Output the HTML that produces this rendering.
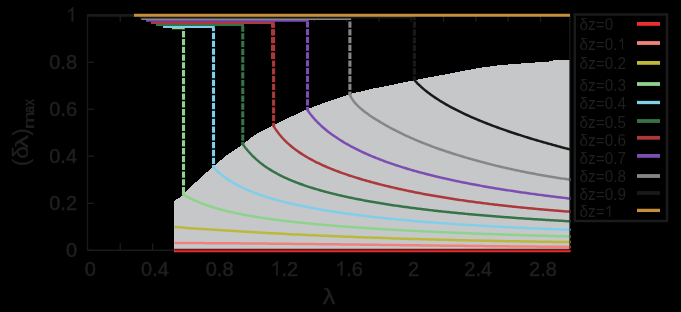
<!DOCTYPE html>
<html><head><meta charset="utf-8"><title>plot</title>
<style>html,body{margin:0;padding:0;background:#000;}body{width:681px;height:312px;overflow:hidden;position:relative;font-family:"Liberation Sans",sans-serif;}svg text{font-family:"Liberation Sans",sans-serif;}</style>
</head><body>
<svg width="681" height="312" viewBox="0 0 681 312" style="display:block;position:absolute;left:0;top:0;will-change:transform;opacity:0.999">
<rect x="0" y="0" width="681" height="312" fill="#000"/>
<g stroke="#1c1c1c" fill="none" stroke-width="1.4">
<rect x="87.5" y="15.2" width="482.20000000000005" height="235.10000000000002"/>
<line x1="120.23" y1="250.3" x2="120.23" y2="243.3"/>
<line x1="120.23" y1="15.2" x2="120.23" y2="21.799999999999997"/>
<line x1="152.56" y1="250.3" x2="152.56" y2="243.3"/>
<line x1="152.56" y1="15.2" x2="152.56" y2="21.799999999999997"/>
<line x1="184.89" y1="250.3" x2="184.89" y2="243.3"/>
<line x1="184.89" y1="15.2" x2="184.89" y2="21.799999999999997"/>
<line x1="217.22" y1="250.3" x2="217.22" y2="243.3"/>
<line x1="217.22" y1="15.2" x2="217.22" y2="21.799999999999997"/>
<line x1="249.55" y1="250.3" x2="249.55" y2="243.3"/>
<line x1="249.55" y1="15.2" x2="249.55" y2="21.799999999999997"/>
<line x1="281.88" y1="250.3" x2="281.88" y2="243.3"/>
<line x1="281.88" y1="15.2" x2="281.88" y2="21.799999999999997"/>
<line x1="314.21" y1="250.3" x2="314.21" y2="243.3"/>
<line x1="314.21" y1="15.2" x2="314.21" y2="21.799999999999997"/>
<line x1="346.54" y1="250.3" x2="346.54" y2="243.3"/>
<line x1="346.54" y1="15.2" x2="346.54" y2="21.799999999999997"/>
<line x1="378.87" y1="250.3" x2="378.87" y2="243.3"/>
<line x1="378.87" y1="15.2" x2="378.87" y2="21.799999999999997"/>
<line x1="411.20" y1="250.3" x2="411.20" y2="243.3"/>
<line x1="411.20" y1="15.2" x2="411.20" y2="21.799999999999997"/>
<line x1="443.53" y1="250.3" x2="443.53" y2="243.3"/>
<line x1="443.53" y1="15.2" x2="443.53" y2="21.799999999999997"/>
<line x1="475.86" y1="250.3" x2="475.86" y2="243.3"/>
<line x1="475.86" y1="15.2" x2="475.86" y2="21.799999999999997"/>
<line x1="508.19" y1="250.3" x2="508.19" y2="243.3"/>
<line x1="508.19" y1="15.2" x2="508.19" y2="21.799999999999997"/>
<line x1="540.52" y1="250.3" x2="540.52" y2="243.3"/>
<line x1="540.52" y1="15.2" x2="540.52" y2="21.799999999999997"/>
<line x1="87.9" y1="250.30" x2="93.9" y2="250.30"/>
<line x1="569.5" y1="250.30" x2="563.5" y2="250.30"/>
<line x1="87.9" y1="203.28" x2="93.9" y2="203.28"/>
<line x1="569.5" y1="203.28" x2="563.5" y2="203.28"/>
<line x1="87.9" y1="156.26" x2="93.9" y2="156.26"/>
<line x1="569.5" y1="156.26" x2="563.5" y2="156.26"/>
<line x1="87.9" y1="109.24" x2="93.9" y2="109.24"/>
<line x1="569.5" y1="109.24" x2="563.5" y2="109.24"/>
<line x1="87.9" y1="62.22" x2="93.9" y2="62.22"/>
<line x1="569.5" y1="62.22" x2="563.5" y2="62.22"/>
<line x1="87.9" y1="15.20" x2="93.9" y2="15.20"/>
<line x1="569.5" y1="15.20" x2="563.5" y2="15.20"/>
</g>
<line x1="87.4" y1="15.35" x2="140" y2="15.35" stroke="#1c1c1c" stroke-width="2.6"/>
<polygon points="174.00,251.50 174.00,202.20 175.60,199.80 178.00,198.40 181.90,196.25 185.90,192.00 191.90,185.80 200.20,178.20 211.90,167.60 213.60,166.30 227.00,155.00 242.30,144.90 248.00,140.20 253.90,135.50 262.00,131.00 271.90,126.10 286.20,118.90 290.25,117.00 307.00,109.30 323.75,103.00 340.50,97.50 350.00,94.00 373.50,88.50 390.25,85.20 413.70,80.30 432.00,76.80 450.00,73.50 466.75,70.15 483.50,67.30 500.25,65.10 517.00,63.80 533.75,62.60 550.50,61.40 554.70,60.10 569.50,59.50 569.50,251.50" fill="#c7c8c9" shape-rendering="crispEdges"/>
<polyline points="174.20,250.90 570.60,250.90" fill="none" stroke="#ee2e2f" stroke-width="2.5"/>
<polyline points="174.50,243.00 178.50,243.01 182.50,243.03 186.50,243.05 190.50,243.06 194.50,243.08 198.50,243.10 202.50,243.12 206.50,243.15 210.50,243.17 214.50,243.19 218.50,243.22 222.50,243.25 226.50,243.27 230.50,243.30 234.50,243.33 238.50,243.36 242.50,243.39 246.50,243.43 250.50,243.46 254.50,243.49 258.50,243.53 262.50,243.56 266.50,243.60 270.50,243.64 274.50,243.68 278.50,243.72 282.50,243.75 286.50,243.79 290.50,243.84 294.50,243.88 298.50,243.92 302.50,243.96 306.50,244.00 310.50,244.05 314.50,244.09 318.50,244.14 322.50,244.18 326.50,244.23 330.50,244.27 334.50,244.32 338.50,244.36 342.50,244.41 346.50,244.46 350.50,244.51 354.50,244.55 358.50,244.60 362.50,244.65 366.50,244.70 370.50,244.75 374.50,244.80 378.50,244.84 382.50,244.89 386.50,244.94 390.50,244.99 394.50,245.04 398.50,245.09 402.50,245.14 406.50,245.19 410.50,245.24 414.50,245.29 418.50,245.34 422.50,245.39 426.50,245.43 430.50,245.48 434.50,245.53 438.50,245.58 442.50,245.63 446.50,245.67 450.50,245.72 454.50,245.77 458.50,245.82 462.50,245.86 466.50,245.91 470.50,245.95 474.50,246.00 478.50,246.04 482.50,246.09 486.50,246.13 490.50,246.17 494.50,246.22 498.50,246.26 502.50,246.30 506.50,246.34 510.50,246.38 514.50,246.42 518.50,246.46 522.50,246.50 526.50,246.54 530.50,246.57 534.50,246.61 538.50,246.65 542.50,246.68 546.50,246.71 550.50,246.75 554.50,246.78 558.50,246.81 562.50,246.84 566.50,246.87 570.50,246.90 571.00,246.90" fill="none" stroke="#f4827c" stroke-width="2.5"/>
<polyline points="174.50,227.00 178.50,227.30 182.50,227.59 186.50,227.88 190.50,228.17 194.50,228.45 198.50,228.73 202.50,229.01 206.50,229.28 210.50,229.55 214.50,229.81 218.50,230.07 222.50,230.33 226.50,230.58 230.50,230.83 234.50,231.08 238.50,231.32 242.50,231.56 246.50,231.80 250.50,232.03 254.50,232.26 258.50,232.49 262.50,232.71 266.50,232.93 270.50,233.15 274.50,233.36 278.50,233.57 282.50,233.77 286.50,233.98 290.50,234.18 294.50,234.38 298.50,234.57 302.50,234.76 306.50,234.95 310.50,235.14 314.50,235.32 318.50,235.50 322.50,235.67 326.50,235.85 330.50,236.02 334.50,236.19 338.50,236.35 342.50,236.51 346.50,236.67 350.50,236.83 354.50,236.98 358.50,237.14 362.50,237.28 366.50,237.43 370.50,237.57 374.50,237.72 378.50,237.85 382.50,237.99 386.50,238.12 390.50,238.26 394.50,238.38 398.50,238.51 402.50,238.64 406.50,238.76 410.50,238.88 414.50,238.99 418.50,239.11 422.50,239.22 426.50,239.33 430.50,239.44 434.50,239.55 438.50,239.65 442.50,239.75 446.50,239.85 450.50,239.95 454.50,240.05 458.50,240.14 462.50,240.24 466.50,240.33 470.50,240.41 474.50,240.50 478.50,240.59 482.50,240.67 486.50,240.75 490.50,240.83 494.50,240.91 498.50,240.98 502.50,241.06 506.50,241.13 510.50,241.20 514.50,241.27 518.50,241.34 522.50,241.40 526.50,241.47 530.50,241.53 534.50,241.60 538.50,241.66 542.50,241.71 546.50,241.77 550.50,241.83 554.50,241.88 558.50,241.94 562.50,241.99 566.50,242.04 570.50,242.09 571.00,242.10" fill="none" stroke="#bdb93c" stroke-width="2.5"/>
<polyline points="172,28 184.75,28" fill="none" stroke="#8fd48e" stroke-width="2.5"/>
<line x1="183.5" y1="29.25" x2="183.5" y2="195.00" stroke="#8fd48e" stroke-width="3.1" stroke-dasharray="6.3 1.5" stroke-dashoffset="5.97"/>
<line x1="183.5" y1="192.50" x2="183.5" y2="195.80" stroke="#8fd48e" stroke-width="3.0"/>
<polyline points="183.50,195.00 185.00,195.65 186.50,196.37 188.00,197.13 189.50,197.88 191.00,198.63 192.50,199.36 194.00,200.08 195.50,200.76 197.00,201.43 198.50,202.08 200.00,202.70 201.50,203.30 203.00,203.89 204.50,204.45 206.00,205.00 207.50,205.52 209.00,206.03 210.50,206.53 212.00,207.01 213.50,207.48 215.00,207.93 216.50,208.37 218.00,208.80 219.50,209.22 221.00,209.63 222.50,210.02 224.00,210.41 225.50,210.78 227.00,211.15 228.50,211.51 230.00,211.86 231.50,212.20 233.00,212.54 234.50,212.86 236.00,213.18 237.50,213.49 239.00,213.80 240.50,214.10 242.00,214.39 243.50,214.68 245.00,214.96 246.50,215.24 248.00,215.51 249.50,215.78 251.00,216.04 252.50,216.30 254.00,216.55 255.50,216.80 257.00,217.04 258.50,217.28 260.00,217.51 261.50,217.74 263.00,217.97 264.50,218.19 266.00,218.41 267.50,218.63 269.00,218.84 270.50,219.05 272.00,219.26 273.50,219.46 275.00,219.66 276.50,219.86 278.00,220.05 279.50,220.25 281.00,220.43 282.50,220.62 284.00,220.80 285.50,220.98 287.00,221.16 288.50,221.34 290.00,221.51 291.50,221.68 293.00,221.85 294.50,222.02 296.00,222.18 297.50,222.34 299.00,222.51 300.50,222.66 302.00,222.82 303.50,222.97 305.00,223.13 306.50,223.28 308.00,223.43 309.50,223.57 311.00,223.72 312.50,223.86 314.00,224.00 315.50,224.14 317.00,224.28 318.50,224.42 320.00,224.56 321.50,224.69 323.00,224.82 324.50,224.95 326.00,225.08 327.50,225.21 329.00,225.34 330.50,225.46 332.00,225.59 333.50,225.71 335.00,225.83 336.50,225.95 338.00,226.07 339.50,226.19 341.00,226.31 342.50,226.42 344.00,226.54 345.50,226.65 347.00,226.76 348.50,226.87 350.00,226.98 351.50,227.09 353.00,227.20 354.50,227.30 356.00,227.41 357.50,227.52 359.00,227.62 360.50,227.72 362.00,227.82 363.50,227.92 365.00,228.02 366.50,228.12 368.00,228.22 369.50,228.32 371.00,228.42 372.50,228.51 374.00,228.61 375.50,228.70 377.00,228.79 378.50,228.88 380.00,228.98 381.50,229.07 383.00,229.16 384.50,229.25 386.00,229.33 387.50,229.42 389.00,229.51 390.50,229.59 392.00,229.68 393.50,229.76 395.00,229.85 396.50,229.93 398.00,230.01 399.50,230.10 401.00,230.18 402.50,230.26 404.00,230.34 405.50,230.42 407.00,230.50 408.50,230.58 410.00,230.65 411.50,230.73 413.00,230.81 414.50,230.88 416.00,230.96 417.50,231.03 419.00,231.11 420.50,231.18 422.00,231.25 423.50,231.32 425.00,231.40 426.50,231.47 428.00,231.54 429.50,231.61 431.00,231.68 432.50,231.75 434.00,231.82 435.50,231.88 437.00,231.95 438.50,232.02 440.00,232.09 441.50,232.15 443.00,232.22 444.50,232.28 446.00,232.35 447.50,232.41 449.00,232.48 450.50,232.54 452.00,232.60 453.50,232.67 455.00,232.73 456.50,232.79 458.00,232.85 459.50,232.91 461.00,232.97 462.50,233.03 464.00,233.09 465.50,233.15 467.00,233.21 468.50,233.27 470.00,233.33 471.50,233.39 473.00,233.44 474.50,233.50 476.00,233.56 477.50,233.62 479.00,233.67 480.50,233.73 482.00,233.78 483.50,233.84 485.00,233.89 486.50,233.95 488.00,234.00 489.50,234.05 491.00,234.11 492.50,234.16 494.00,234.21 495.50,234.26 497.00,234.32 498.50,234.37 500.00,234.42 501.50,234.47 503.00,234.52 504.50,234.57 506.00,234.62 507.50,234.67 509.00,234.72 510.50,234.77 512.00,234.82 513.50,234.87 515.00,234.91 516.50,234.96 518.00,235.01 519.50,235.06 521.00,235.10 522.50,235.15 524.00,235.20 525.50,235.24 527.00,235.29 528.50,235.34 530.00,235.38 531.50,235.43 533.00,235.47 534.50,235.52 536.00,235.56 537.50,235.60 539.00,235.65 540.50,235.69 542.00,235.74 543.50,235.78 545.00,235.82 546.50,235.86 548.00,235.91 549.50,235.95 551.00,235.99 552.50,236.03 554.00,236.07 555.50,236.12 557.00,236.16 558.50,236.20 560.00,236.24 561.50,236.28 563.00,236.32 564.50,236.36 566.00,236.40 567.50,236.44 569.00,236.48 570.50,236.52 571.00,236.53" fill="none" stroke="#8fd48e" stroke-width="2.5" stroke-linejoin="round"/>
<polyline points="163,26.75 214.75,26.75" fill="none" stroke="#82cfec" stroke-width="2.5"/>
<line x1="213.5" y1="28.00" x2="213.5" y2="167.50" stroke="#82cfec" stroke-width="3.1" stroke-dasharray="6.3 1.5" stroke-dashoffset="2.97"/>
<line x1="213.5" y1="165.00" x2="213.5" y2="168.30" stroke="#82cfec" stroke-width="3.0"/>
<polyline points="213.50,167.50 215.00,168.93 216.50,170.34 218.00,171.72 219.50,173.05 221.00,174.31 222.50,175.53 224.00,176.69 225.50,177.80 227.00,178.86 228.50,179.88 230.00,180.86 231.50,181.80 233.00,182.70 234.50,183.57 236.00,184.41 237.50,185.22 239.00,186.00 240.50,186.76 242.00,187.49 243.50,188.20 245.00,188.89 246.50,189.56 248.00,190.21 249.50,190.84 251.00,191.45 252.50,192.05 254.00,192.63 255.50,193.20 257.00,193.75 258.50,194.29 260.00,194.82 261.50,195.34 263.00,195.84 264.50,196.33 266.00,196.81 267.50,197.28 269.00,197.74 270.50,198.19 272.00,198.64 273.50,199.07 275.00,199.49 276.50,199.91 278.00,200.32 279.50,200.72 281.00,201.12 282.50,201.50 284.00,201.88 285.50,202.26 287.00,202.62 288.50,202.98 290.00,203.34 291.50,203.69 293.00,204.03 294.50,204.37 296.00,204.70 297.50,205.03 299.00,205.35 300.50,205.67 302.00,205.98 303.50,206.29 305.00,206.59 306.50,206.89 308.00,207.19 309.50,207.48 311.00,207.76 312.50,208.05 314.00,208.33 315.50,208.60 317.00,208.87 318.50,209.14 320.00,209.40 321.50,209.66 323.00,209.92 324.50,210.17 326.00,210.42 327.50,210.67 329.00,210.92 330.50,211.16 332.00,211.39 333.50,211.63 335.00,211.86 336.50,212.09 338.00,212.31 339.50,212.54 341.00,212.76 342.50,212.98 344.00,213.19 345.50,213.40 347.00,213.61 348.50,213.82 350.00,214.03 351.50,214.23 353.00,214.43 354.50,214.63 356.00,214.82 357.50,215.02 359.00,215.21 360.50,215.40 362.00,215.58 363.50,215.77 365.00,215.95 366.50,216.13 368.00,216.31 369.50,216.49 371.00,216.66 372.50,216.84 374.00,217.01 375.50,217.18 377.00,217.34 378.50,217.51 380.00,217.67 381.50,217.83 383.00,218.00 384.50,218.15 386.00,218.31 387.50,218.47 389.00,218.62 390.50,218.77 392.00,218.92 393.50,219.07 395.00,219.22 396.50,219.37 398.00,219.51 399.50,219.65 401.00,219.80 402.50,219.94 404.00,220.08 405.50,220.21 407.00,220.35 408.50,220.49 410.00,220.62 411.50,220.75 413.00,220.88 414.50,221.01 416.00,221.14 417.50,221.27 419.00,221.39 420.50,221.52 422.00,221.64 423.50,221.77 425.00,221.89 426.50,222.01 428.00,222.13 429.50,222.25 431.00,222.36 432.50,222.48 434.00,222.59 435.50,222.71 437.00,222.82 438.50,222.93 440.00,223.04 441.50,223.15 443.00,223.26 444.50,223.37 446.00,223.48 447.50,223.58 449.00,223.69 450.50,223.79 452.00,223.89 453.50,224.00 455.00,224.10 456.50,224.20 458.00,224.30 459.50,224.40 461.00,224.49 462.50,224.59 464.00,224.69 465.50,224.78 467.00,224.88 468.50,224.97 470.00,225.06 471.50,225.16 473.00,225.25 474.50,225.34 476.00,225.43 477.50,225.52 479.00,225.60 480.50,225.69 482.00,225.78 483.50,225.86 485.00,225.95 486.50,226.03 488.00,226.12 489.50,226.20 491.00,226.28 492.50,226.37 494.00,226.45 495.50,226.53 497.00,226.61 498.50,226.69 500.00,226.77 501.50,226.84 503.00,226.92 504.50,227.00 506.00,227.07 507.50,227.15 509.00,227.22 510.50,227.30 512.00,227.37 513.50,227.44 515.00,227.52 516.50,227.59 518.00,227.66 519.50,227.73 521.00,227.80 522.50,227.87 524.00,227.94 525.50,228.01 527.00,228.08 528.50,228.14 530.00,228.21 531.50,228.28 533.00,228.34 534.50,228.41 536.00,228.47 537.50,228.54 539.00,228.60 540.50,228.66 542.00,228.73 543.50,228.79 545.00,228.85 546.50,228.91 548.00,228.97 549.50,229.03 551.00,229.09 552.50,229.15 554.00,229.21 555.50,229.27 557.00,229.33 558.50,229.39 560.00,229.44 561.50,229.50 563.00,229.56 564.50,229.61 566.00,229.67 567.50,229.72 569.00,229.78 570.50,229.83 571.00,229.85" fill="none" stroke="#82cfec" stroke-width="2.5" stroke-linejoin="round"/>
<polyline points="156,24.85 244.0,24.85" fill="none" stroke="#37744a" stroke-width="2.5"/>
<line x1="242.75" y1="26.10" x2="242.75" y2="144.25" stroke="#37744a" stroke-width="3.1" stroke-dasharray="6.3 1.5" stroke-dashoffset="0.77"/>
<line x1="242.75" y1="141.75" x2="242.75" y2="145.05" stroke="#37744a" stroke-width="3.0"/>
<polyline points="242.75,144.25 244.25,146.23 245.75,148.15 247.25,149.99 248.75,151.75 250.25,153.42 251.75,155.01 253.25,156.52 254.75,157.96 256.25,159.34 257.75,160.65 259.25,161.91 260.75,163.11 262.25,164.27 263.75,165.38 265.25,166.44 266.75,167.47 268.25,168.46 269.75,169.42 271.25,170.35 272.75,171.24 274.25,172.11 275.75,172.95 277.25,173.77 278.75,174.56 280.25,175.33 281.75,176.08 283.25,176.80 284.75,177.51 286.25,178.20 287.75,178.88 289.25,179.53 290.75,180.17 292.25,180.80 293.75,181.41 295.25,182.00 296.75,182.59 298.25,183.16 299.75,183.72 301.25,184.26 302.75,184.80 304.25,185.32 305.75,185.84 307.25,186.34 308.75,186.84 310.25,187.32 311.75,187.80 313.25,188.26 314.75,188.72 316.25,189.17 317.75,189.61 319.25,190.05 320.75,190.48 322.25,190.90 323.75,191.31 325.25,191.71 326.75,192.11 328.25,192.51 329.75,192.90 331.25,193.28 332.75,193.65 334.25,194.02 335.75,194.39 337.25,194.74 338.75,195.10 340.25,195.45 341.75,195.79 343.25,196.13 344.75,196.46 346.25,196.79 347.75,197.11 349.25,197.44 350.75,197.75 352.25,198.06 353.75,198.37 355.25,198.67 356.75,198.97 358.25,199.27 359.75,199.56 361.25,199.85 362.75,200.14 364.25,200.42 365.75,200.70 367.25,200.97 368.75,201.24 370.25,201.51 371.75,201.78 373.25,202.04 374.75,202.30 376.25,202.55 377.75,202.81 379.25,203.06 380.75,203.30 382.25,203.55 383.75,203.79 385.25,204.03 386.75,204.26 388.25,204.50 389.75,204.73 391.25,204.96 392.75,205.18 394.25,205.40 395.75,205.63 397.25,205.84 398.75,206.06 400.25,206.27 401.75,206.49 403.25,206.70 404.75,206.90 406.25,207.11 407.75,207.31 409.25,207.51 410.75,207.71 412.25,207.91 413.75,208.10 415.25,208.30 416.75,208.49 418.25,208.68 419.75,208.86 421.25,209.05 422.75,209.23 424.25,209.42 425.75,209.60 427.25,209.77 428.75,209.95 430.25,210.13 431.75,210.30 433.25,210.47 434.75,210.64 436.25,210.81 437.75,210.98 439.25,211.14 440.75,211.31 442.25,211.47 443.75,211.63 445.25,211.79 446.75,211.95 448.25,212.10 449.75,212.26 451.25,212.41 452.75,212.56 454.25,212.71 455.75,212.86 457.25,213.01 458.75,213.16 460.25,213.30 461.75,213.45 463.25,213.59 464.75,213.73 466.25,213.87 467.75,214.01 469.25,214.15 470.75,214.29 472.25,214.43 473.75,214.56 475.25,214.69 476.75,214.83 478.25,214.96 479.75,215.09 481.25,215.22 482.75,215.35 484.25,215.47 485.75,215.60 487.25,215.72 488.75,215.85 490.25,215.97 491.75,216.09 493.25,216.21 494.75,216.33 496.25,216.45 497.75,216.57 499.25,216.69 500.75,216.80 502.25,216.92 503.75,217.03 505.25,217.15 506.75,217.26 508.25,217.37 509.75,217.48 511.25,217.59 512.75,217.70 514.25,217.81 515.75,217.92 517.25,218.02 518.75,218.13 520.25,218.23 521.75,218.34 523.25,218.44 524.75,218.54 526.25,218.65 527.75,218.75 529.25,218.85 530.75,218.95 532.25,219.05 533.75,219.14 535.25,219.24 536.75,219.34 538.25,219.43 539.75,219.53 541.25,219.62 542.75,219.72 544.25,219.81 545.75,219.90 547.25,219.99 548.75,220.08 550.25,220.18 551.75,220.26 553.25,220.35 554.75,220.44 556.25,220.53 557.75,220.62 559.25,220.70 560.75,220.79 562.25,220.87 563.75,220.96 565.25,221.04 566.75,221.13 568.25,221.21 569.75,221.29 571.00,221.36" fill="none" stroke="#37744a" stroke-width="2.5" stroke-linejoin="round"/>
<polyline points="151,22.75 274.85,22.75" fill="none" stroke="#ac393b" stroke-width="2.5"/>
<line x1="273.6" y1="24.00" x2="273.6" y2="126.00" stroke="#ac393b" stroke-width="3.1" stroke-dasharray="6.3 1.5" stroke-dashoffset="2.58"/>
<line x1="273.6" y1="123.50" x2="273.6" y2="126.80" stroke="#ac393b" stroke-width="3.0"/>
<line x1="272.4" y1="24.00" x2="272.4" y2="60.4" stroke="#ac393b" stroke-width="2.8" stroke-dasharray="6.3 1.5" stroke-dashoffset="2.58"/>
<polyline points="273.50,126.01 275.00,128.37 276.50,130.56 278.00,132.60 279.50,134.51 281.00,136.31 282.50,138.00 284.00,139.59 285.50,141.11 287.00,142.55 288.50,143.93 290.00,145.24 291.50,146.50 293.00,147.71 294.50,148.87 296.00,149.99 297.50,151.07 299.00,152.12 300.50,153.13 302.00,154.11 303.50,155.06 305.00,155.98 306.50,156.87 308.00,157.74 309.50,158.59 311.00,159.41 312.50,160.21 314.00,161.00 315.50,161.76 317.00,162.51 318.50,163.24 320.00,163.95 321.50,164.65 323.00,165.34 324.50,166.01 326.00,166.66 327.50,167.30 329.00,167.93 330.50,168.55 332.00,169.16 333.50,169.76 335.00,170.34 336.50,170.92 338.00,171.48 339.50,172.04 341.00,172.59 342.50,173.12 344.00,173.65 345.50,174.17 347.00,174.69 348.50,175.19 350.00,175.69 351.50,176.18 353.00,176.66 354.50,177.14 356.00,177.61 357.50,178.07 359.00,178.53 360.50,178.98 362.00,179.43 363.50,179.87 365.00,180.30 366.50,180.73 368.00,181.15 369.50,181.57 371.00,181.98 372.50,182.39 374.00,182.79 375.50,183.19 377.00,183.58 378.50,183.97 380.00,184.35 381.50,184.73 383.00,185.11 384.50,185.48 386.00,185.85 387.50,186.21 389.00,186.57 390.50,186.93 392.00,187.28 393.50,187.63 395.00,187.98 396.50,188.32 398.00,188.66 399.50,188.99 401.00,189.32 402.50,189.65 404.00,189.98 405.50,190.30 407.00,190.61 408.50,190.93 410.00,191.24 411.50,191.55 413.00,191.85 414.50,192.15 416.00,192.45 417.50,192.75 419.00,193.04 420.50,193.33 422.00,193.61 423.50,193.90 425.00,194.18 426.50,194.46 428.00,194.73 429.50,195.00 431.00,195.27 432.50,195.54 434.00,195.80 435.50,196.06 437.00,196.32 438.50,196.58 440.00,196.83 441.50,197.08 443.00,197.33 444.50,197.58 446.00,197.82 447.50,198.06 449.00,198.30 450.50,198.54 452.00,198.77 453.50,199.00 455.00,199.23 456.50,199.46 458.00,199.68 459.50,199.91 461.00,200.13 462.50,200.34 464.00,200.56 465.50,200.78 467.00,200.99 468.50,201.20 470.00,201.41 471.50,201.61 473.00,201.82 474.50,202.02 476.00,202.22 477.50,202.42 479.00,202.61 480.50,202.81 482.00,203.00 483.50,203.19 485.00,203.38 486.50,203.57 488.00,203.75 489.50,203.94 491.00,204.12 492.50,204.30 494.00,204.48 495.50,204.66 497.00,204.83 498.50,205.01 500.00,205.18 501.50,205.35 503.00,205.52 504.50,205.69 506.00,205.85 507.50,206.02 509.00,206.18 510.50,206.34 512.00,206.50 513.50,206.66 515.00,206.82 516.50,206.97 518.00,207.13 519.50,207.28 521.00,207.43 522.50,207.58 524.00,207.73 525.50,207.87 527.00,208.02 528.50,208.16 530.00,208.31 531.50,208.45 533.00,208.59 534.50,208.73 536.00,208.87 537.50,209.00 539.00,209.14 540.50,209.27 542.00,209.41 543.50,209.54 545.00,209.67 546.50,209.80 548.00,209.93 549.50,210.06 551.00,210.18 552.50,210.31 554.00,210.43 555.50,210.55 557.00,210.67 558.50,210.79 560.00,210.91 561.50,211.03 563.00,211.15 564.50,211.27 566.00,211.38 567.50,211.50 569.00,211.61 570.50,211.72 571.00,211.76" fill="none" stroke="#ac393b" stroke-width="2.5" stroke-linejoin="round"/>
<polyline points="146,20.5 308.75,20.5" fill="none" stroke="#7d4eb3" stroke-width="2.5"/>
<line x1="307.5" y1="21.75" x2="307.5" y2="110.00" stroke="#7d4eb3" stroke-width="3.1" stroke-dasharray="6.3 1.5" stroke-dashoffset="0.62"/>
<line x1="307.5" y1="107.50" x2="307.5" y2="110.80" stroke="#7d4eb3" stroke-width="3.0"/>
<polyline points="307.50,110.00 309.00,112.18 310.50,114.20 312.00,116.10 313.50,117.90 315.00,119.60 316.50,121.21 318.00,122.75 319.50,124.22 321.00,125.63 322.50,126.98 324.00,128.29 325.50,129.55 327.00,130.77 328.50,131.94 330.00,133.08 331.50,134.19 333.00,135.27 334.50,136.32 336.00,137.34 337.50,138.33 339.00,139.30 340.50,140.25 342.00,141.17 343.50,142.08 345.00,142.96 346.50,143.83 348.00,144.68 349.50,145.51 351.00,146.32 352.50,147.12 354.00,147.91 355.50,148.68 357.00,149.43 358.50,150.17 360.00,150.90 361.50,151.61 363.00,152.31 364.50,153.00 366.00,153.68 367.50,154.35 369.00,155.00 370.50,155.64 372.00,156.28 373.50,156.90 375.00,157.51 376.50,158.12 378.00,158.71 379.50,159.29 381.00,159.87 382.50,160.44 384.00,161.00 385.50,161.55 387.00,162.09 388.50,162.62 390.00,163.15 391.50,163.67 393.00,164.18 394.50,164.69 396.00,165.19 397.50,165.68 399.00,166.16 400.50,166.64 402.00,167.12 403.50,167.58 405.00,168.04 406.50,168.50 408.00,168.95 409.50,169.39 411.00,169.83 412.50,170.26 414.00,170.69 415.50,171.11 417.00,171.53 418.50,171.94 420.00,172.35 421.50,172.76 423.00,173.16 424.50,173.55 426.00,173.94 427.50,174.33 429.00,174.71 430.50,175.08 432.00,175.46 433.50,175.83 435.00,176.19 436.50,176.55 438.00,176.91 439.50,177.27 441.00,177.62 442.50,177.96 444.00,178.31 445.50,178.64 447.00,178.98 448.50,179.31 450.00,179.64 451.50,179.97 453.00,180.29 454.50,180.61 456.00,180.93 457.50,181.24 459.00,181.55 460.50,181.86 462.00,182.17 463.50,182.47 465.00,182.77 466.50,183.06 468.00,183.36 469.50,183.65 471.00,183.94 472.50,184.22 474.00,184.50 475.50,184.79 477.00,185.06 478.50,185.34 480.00,185.61 481.50,185.88 483.00,186.15 484.50,186.42 486.00,186.68 487.50,186.94 489.00,187.20 490.50,187.46 492.00,187.71 493.50,187.97 495.00,188.22 496.50,188.47 498.00,188.71 499.50,188.96 501.00,189.20 502.50,189.44 504.00,189.68 505.50,189.92 507.00,190.15 508.50,190.38 510.00,190.62 511.50,190.84 513.00,191.07 514.50,191.30 516.00,191.52 517.50,191.74 519.00,191.96 520.50,192.18 522.00,192.40 523.50,192.62 525.00,192.83 526.50,193.04 528.00,193.25 529.50,193.46 531.00,193.67 532.50,193.88 534.00,194.08 535.50,194.28 537.00,194.48 538.50,194.68 540.00,194.88 541.50,195.08 543.00,195.28 544.50,195.47 546.00,195.66 547.50,195.86 549.00,196.05 550.50,196.23 552.00,196.42 553.50,196.61 555.00,196.79 556.50,196.98 558.00,197.16 559.50,197.34 561.00,197.52 562.50,197.70 564.00,197.88 565.50,198.05 567.00,198.23 568.50,198.40 570.00,198.58 571.00,198.69" fill="none" stroke="#7d4eb3" stroke-width="2.5" stroke-linejoin="round"/>
<polyline points="141.25,18.85 351.15,18.85" fill="none" stroke="#87878b" stroke-width="2.5"/>
<line x1="349.9" y1="20.10" x2="349.9" y2="95.00" stroke="#87878b" stroke-width="3.1" stroke-dasharray="6.3 1.5" stroke-dashoffset="6.48"/>
<line x1="349.9" y1="92.50" x2="349.9" y2="95.80" stroke="#87878b" stroke-width="3.0"/>
<polyline points="349.90,95.00 351.40,97.84 352.90,100.16 354.40,102.14 355.90,103.89 357.40,105.47 358.90,106.92 360.40,108.27 361.90,109.54 363.40,110.76 364.90,111.92 366.40,113.03 367.90,114.11 369.40,115.16 370.90,116.17 372.40,117.17 373.90,118.14 375.40,119.09 376.90,120.02 378.40,120.94 379.90,121.84 381.40,122.73 382.90,123.60 384.40,124.46 385.90,125.32 387.40,126.15 388.90,126.98 390.40,127.80 391.90,128.60 393.40,129.40 394.90,130.18 396.40,130.95 397.90,131.71 399.40,132.46 400.90,133.19 402.40,133.92 403.90,134.64 405.40,135.34 406.90,136.04 408.40,136.73 409.90,137.41 411.40,138.07 412.90,138.73 414.40,139.38 415.90,140.03 417.40,140.66 418.90,141.28 420.40,141.90 421.90,142.51 423.40,143.11 424.90,143.71 426.40,144.29 427.90,144.87 429.40,145.44 430.90,146.01 432.40,146.57 433.90,147.12 435.40,147.66 436.90,148.20 438.40,148.73 439.90,149.26 441.40,149.78 442.90,150.29 444.40,150.80 445.90,151.31 447.40,151.80 448.90,152.29 450.40,152.78 451.90,153.26 453.40,153.74 454.90,154.21 456.40,154.68 457.90,155.14 459.40,155.60 460.90,156.06 462.40,156.51 463.90,156.96 465.40,157.40 466.90,157.84 468.40,158.27 469.90,158.70 471.40,159.13 472.90,159.55 474.40,159.97 475.90,160.39 477.40,160.80 478.90,161.21 480.40,161.61 481.90,162.02 483.40,162.41 484.90,162.81 486.40,163.20 487.90,163.59 489.40,163.97 490.90,164.35 492.40,164.73 493.90,165.10 495.40,165.47 496.90,165.84 498.40,166.20 499.90,166.56 501.40,166.91 502.90,167.26 504.40,167.61 505.90,167.95 507.40,168.29 508.90,168.63 510.40,168.97 511.90,169.30 513.40,169.62 514.90,169.95 516.40,170.27 517.90,170.58 519.40,170.90 520.90,171.21 522.40,171.52 523.90,171.82 525.40,172.12 526.90,172.42 528.40,172.71 529.90,173.00 531.40,173.29 532.90,173.57 534.40,173.85 535.90,174.13 537.40,174.41 538.90,174.68 540.40,174.95 541.90,175.21 543.40,175.48 544.90,175.74 546.40,175.99 547.90,176.25 549.40,176.50 550.90,176.75 552.40,176.99 553.90,177.23 555.40,177.47 556.90,177.71 558.40,177.94 559.90,178.17 561.40,178.40 562.90,178.63 564.40,178.85 565.90,179.07 567.40,179.29 568.90,179.50 570.40,179.71 571.00,179.80" fill="none" stroke="#87878b" stroke-width="2.5" stroke-linejoin="round"/>
<polyline points="139.4,17.35 415.65,17.35" fill="none" stroke="#1a1a1a" stroke-width="2.5"/>
<line x1="414.4" y1="18.60" x2="414.4" y2="80.00" stroke="#1a1a1a" stroke-width="3.1" stroke-dasharray="6.3 1.5" stroke-dashoffset="4.83"/>
<line x1="414.4" y1="77.50" x2="414.4" y2="80.80" stroke="#1a1a1a" stroke-width="3.0"/>
<polyline points="414.40,80.00 415.90,81.70 417.40,83.28 418.90,84.78 420.40,86.20 421.90,87.56 423.40,88.86 424.90,90.11 426.40,91.32 427.90,92.49 429.40,93.62 430.90,94.72 432.40,95.79 433.90,96.83 435.40,97.84 436.90,98.82 438.40,99.79 439.90,100.73 441.40,101.65 442.90,102.55 444.40,103.44 445.90,104.31 447.40,105.16 448.90,105.99 450.40,106.81 451.90,107.61 453.40,108.41 454.90,109.18 456.40,109.95 457.90,110.71 459.40,111.45 460.90,112.18 462.40,112.90 463.90,113.61 465.40,114.31 466.90,115.00 468.40,115.69 469.90,116.36 471.40,117.02 472.90,117.68 474.40,118.33 475.90,118.97 477.40,119.60 478.90,120.23 480.40,120.84 481.90,121.46 483.40,122.06 484.90,122.66 486.40,123.25 487.90,123.84 489.40,124.41 490.90,124.99 492.40,125.56 493.90,126.12 495.40,126.67 496.90,127.23 498.40,127.77 499.90,128.31 501.40,128.85 502.90,129.38 504.40,129.91 505.90,130.43 507.40,130.95 508.90,131.46 510.40,131.97 511.90,132.47 513.40,132.97 514.90,133.47 516.40,133.96 517.90,134.45 519.40,134.93 520.90,135.41 522.40,135.89 523.90,136.36 525.40,136.83 526.90,137.30 528.40,137.76 529.90,138.22 531.40,138.68 532.90,139.13 534.40,139.58 535.90,140.03 537.40,140.47 538.90,140.91 540.40,141.35 541.90,141.78 543.40,142.22 544.90,142.65 546.40,143.07 547.90,143.49 549.40,143.92 550.90,144.33 552.40,144.75 553.90,145.16 555.40,145.57 556.90,145.98 558.40,146.39 559.90,146.79 561.40,147.19 562.90,147.59 564.40,147.98 565.90,148.38 567.40,148.77 568.90,149.16 570.40,149.54 571.00,149.70" fill="none" stroke="#1a1a1a" stroke-width="2.5" stroke-linejoin="round"/>
<line x1="134" y1="15.2" x2="570.0" y2="15.2" stroke="#c68f3e" stroke-width="3"/>
<line x1="174.2" y1="249.65" x2="570.6" y2="249.65" stroke="#6e1a1a" stroke-width="1.7"/>
<line x1="569.95" y1="17" x2="569.95" y2="250" stroke="#101010" stroke-width="1.1"/>
<rect x="574.8" y="14.5" width="92.2" height="206.5" fill="none" stroke="#1c1c1c" stroke-width="2.5"/>
<line x1="637" y1="23.9" x2="660" y2="23.9" stroke="#ee2e2f" stroke-width="3.8"/>
<text transform="translate(579.60,30.40) scale(0.95,1)" font-size="16.1" fill="#202020" stroke="#202020" stroke-width="0.05">δz=0</text>
<line x1="637" y1="43" x2="660" y2="43" stroke="#f4827c" stroke-width="3.8"/>
<text transform="translate(579.60,49.50) scale(0.95,1)" font-size="16.1" fill="#202020" stroke="#202020" stroke-width="0.05">δz=0.</text><path transform="translate(617.45,49.50) scale(0.007468,-0.007861)" d="M763 0L583 0L583 1147Q518 1085 412.5 1023Q307 961 223 930L223 1104Q374 1175 487 1276Q600 1377 647 1472L763 1472Z" fill="#202020" stroke="#202020" stroke-width="6.4"/>
<line x1="637" y1="62.9" x2="660" y2="62.9" stroke="#bdb93c" stroke-width="3.8"/>
<text transform="translate(579.60,69.40) scale(0.95,1)" font-size="16.1" fill="#202020" stroke="#202020" stroke-width="0.05">δz=0.2</text>
<line x1="637" y1="84" x2="660" y2="84" stroke="#8fd48e" stroke-width="3.8"/>
<text transform="translate(579.60,90.50) scale(0.95,1)" font-size="16.1" fill="#202020" stroke="#202020" stroke-width="0.05">δz=0.3</text>
<line x1="637" y1="102.5" x2="660" y2="102.5" stroke="#82cfec" stroke-width="3.3"/>
<text transform="translate(579.60,108.90) scale(0.95,1)" font-size="16.1" fill="#202020" stroke="#202020" stroke-width="0.05">δz=0.4</text>
<line x1="637" y1="121" x2="660" y2="121" stroke="#37744a" stroke-width="3.8"/>
<text transform="translate(579.60,127.50) scale(0.95,1)" font-size="16.1" fill="#202020" stroke="#202020" stroke-width="0.05">δz=0.5</text>
<line x1="637" y1="137.8" x2="660" y2="137.8" stroke="#ac393b" stroke-width="3.8"/>
<text transform="translate(579.60,145.50) scale(0.95,1)" font-size="16.1" fill="#202020" stroke="#202020" stroke-width="0.05">δz=0.6</text>
<line x1="637" y1="155.9" x2="660" y2="155.9" stroke="#7d4eb3" stroke-width="3.8"/>
<text transform="translate(579.60,163.70) scale(0.95,1)" font-size="16.1" fill="#202020" stroke="#202020" stroke-width="0.05">δz=0.7</text>
<line x1="637" y1="176" x2="660" y2="176" stroke="#87878b" stroke-width="3.8"/>
<text transform="translate(579.60,182.30) scale(0.95,1)" font-size="16.1" fill="#202020" stroke="#202020" stroke-width="0.05">δz=0.8</text>
<line x1="637" y1="193" x2="660" y2="193" stroke="#1a1a1a" stroke-width="3.8"/>
<text transform="translate(579.60,199.50) scale(0.95,1)" font-size="16.1" fill="#202020" stroke="#202020" stroke-width="0.05">δz=0.9</text>
<line x1="637" y1="210.4" x2="660" y2="210.4" stroke="#c68f3e" stroke-width="3.3"/>
<text transform="translate(579.60,216.70) scale(0.95,1)" font-size="16.1" fill="#202020" stroke="#202020" stroke-width="0.05">δz=</text><path transform="translate(604.69,216.70) scale(0.007468,-0.007861)" d="M763 0L583 0L583 1147Q518 1085 412.5 1023Q307 961 223 930L223 1104Q374 1175 487 1276Q600 1377 647 1472L763 1472Z" fill="#202020" stroke="#202020" stroke-width="6.4"/>
<text transform="translate(84.74,275.50) scale(1.0,1)" font-size="20" fill="#202020" stroke="#202020" stroke-width="0.5">0</text>
<text transform="translate(141.06,275.50) scale(1.0,1)" font-size="20" fill="#202020" stroke="#202020" stroke-width="0.5">0.4</text>
<text transform="translate(205.72,275.50) scale(1.0,1)" font-size="20" fill="#202020" stroke="#202020" stroke-width="0.5">0.8</text>
<path transform="translate(270.38,275.50) scale(0.009766,-0.009766)" d="M763 0L583 0L583 1147Q518 1085 412.5 1023Q307 961 223 930L223 1104Q374 1175 487 1276Q600 1377 647 1472L763 1472Z" fill="#202020" stroke="#202020" stroke-width="25.6"/><text transform="translate(281.50,275.50) scale(1.0,1)" font-size="20" fill="#202020" stroke="#202020" stroke-width="0.5">.2</text>
<path transform="translate(335.04,275.50) scale(0.009766,-0.009766)" d="M763 0L583 0L583 1147Q518 1085 412.5 1023Q307 961 223 930L223 1104Q374 1175 487 1276Q600 1377 647 1472L763 1472Z" fill="#202020" stroke="#202020" stroke-width="25.6"/><text transform="translate(346.16,275.50) scale(1.0,1)" font-size="20" fill="#202020" stroke="#202020" stroke-width="0.5">.6</text>
<text transform="translate(408.04,275.50) scale(1.0,1)" font-size="20" fill="#202020" stroke="#202020" stroke-width="0.5">2</text>
<text transform="translate(464.36,275.50) scale(1.0,1)" font-size="20" fill="#202020" stroke="#202020" stroke-width="0.5">2.4</text>
<text transform="translate(529.02,275.50) scale(1.0,1)" font-size="20" fill="#202020" stroke="#202020" stroke-width="0.5">2.8</text>
<text transform="translate(65.88,256.70) scale(1.0,1)" font-size="20" fill="#202020" stroke="#202020" stroke-width="0.5">0</text>
<text transform="translate(49.20,209.68) scale(1.0,1)" font-size="20" fill="#202020" stroke="#202020" stroke-width="0.5">0.2</text>
<text transform="translate(49.20,162.66) scale(1.0,1)" font-size="20" fill="#202020" stroke="#202020" stroke-width="0.5">0.4</text>
<text transform="translate(49.20,115.64) scale(1.0,1)" font-size="20" fill="#202020" stroke="#202020" stroke-width="0.5">0.6</text>
<text transform="translate(49.20,68.62) scale(1.0,1)" font-size="20" fill="#202020" stroke="#202020" stroke-width="0.5">0.8</text>
<path transform="translate(65.88,21.60) scale(0.009766,-0.009766)" d="M763 0L583 0L583 1147Q518 1085 412.5 1023Q307 961 223 930L223 1104Q374 1175 487 1276Q600 1377 647 1472L763 1472Z" fill="#202020" stroke="#202020" stroke-width="25.6"/>
<text transform="translate(329,304.3) scale(1.16,1)" font-size="21.7" text-anchor="middle" fill="#202020" stroke="#202020" stroke-width="0.4">λ</text>
<g transform="translate(28.4,165.7) rotate(-90)" fill="#202020" stroke="#202020" stroke-width="0.4">
<text transform="translate(-0.2,0) scale(0.93,1)" font-size="22.8">(</text>
<text transform="translate(7.0,0)" font-size="22.8">δ</text>
<text transform="translate(17.1,0) scale(1.35,0.95)" font-size="20">λ</text>
<text transform="translate(30.3,0) scale(0.93,1)" font-size="22.8">)</text>
<text transform="translate(36.7,5.6) scale(1.35,1)" font-size="15.5" stroke-width="0.5">m</text>
<text transform="translate(52.76,5.6) scale(0.82,1)" font-size="15.5" stroke-width="0.6">a</text>
<text transform="translate(60.26,5.6) scale(0.81,1)" font-size="15.5" stroke-width="0.6">x</text>
</g>
</svg>
</body></html>
